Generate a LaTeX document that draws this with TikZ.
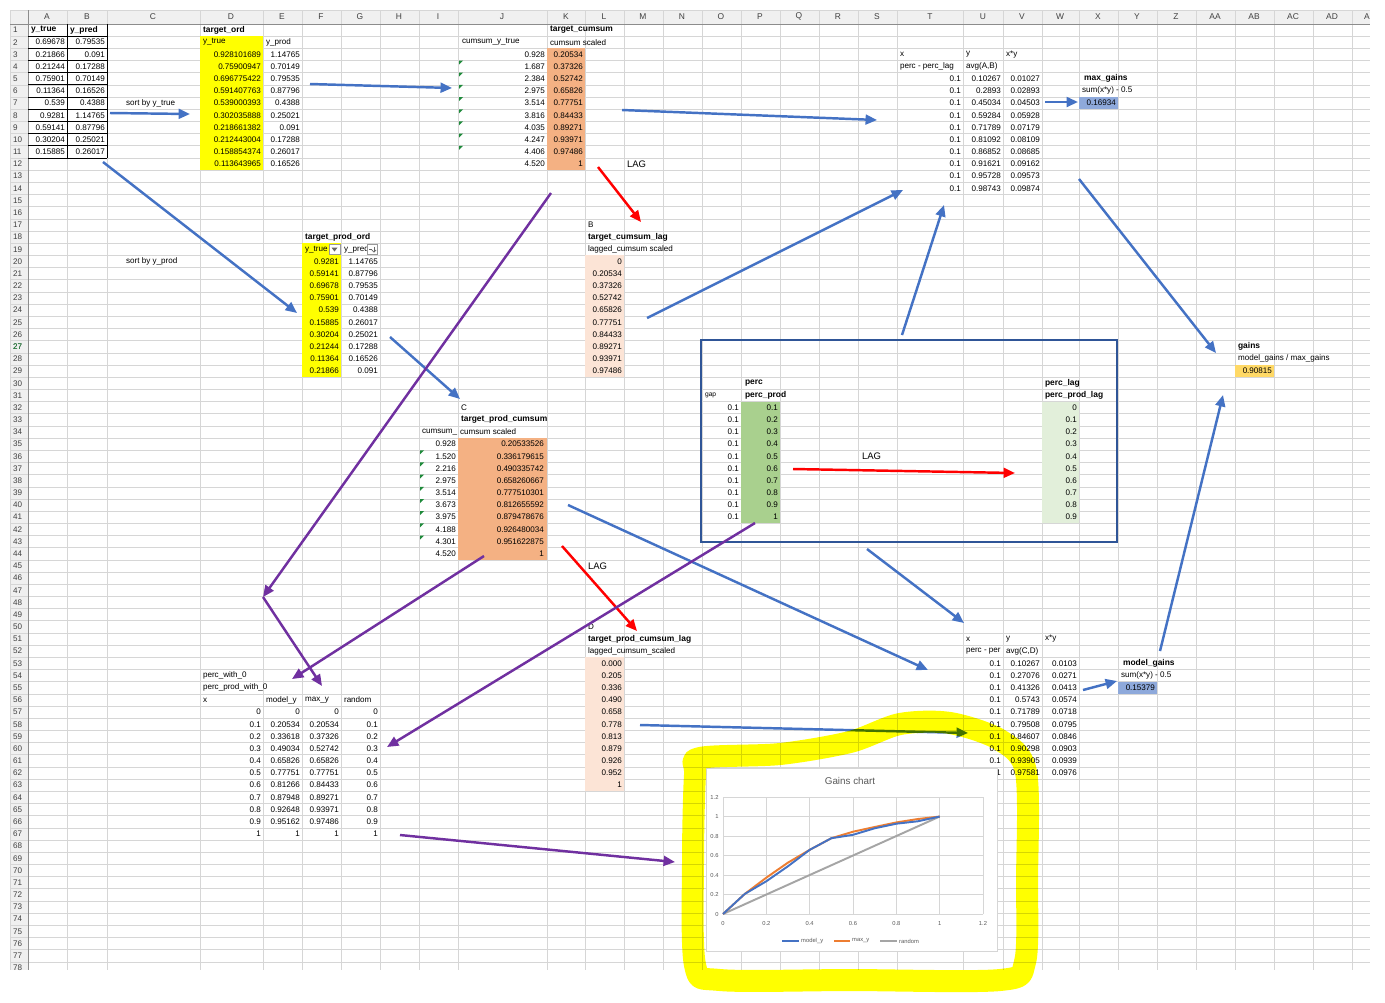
\documentclass[tikz,border=0pt]{standalone}
\usepackage{fontspec}
\setmainfont{Liberation Sans}
\usetikzlibrary{arrows.meta}
\definecolor{gridc}{HTML}{D6D6D6}
\definecolor{headc}{HTML}{F0F0F0}
\definecolor{xlyellow}{HTML}{FFFF00}
\definecolor{xlorange}{HTML}{F4B183}
\definecolor{xlpeach}{HTML}{FCE4D6}
\definecolor{xlgreen}{HTML}{A9D08E}
\definecolor{xllgreen}{HTML}{E2EFDA}
\definecolor{xlbluefill}{HTML}{8EA9DB}
\definecolor{xlgold}{HTML}{FFD966}
\definecolor{xlblue}{HTML}{4472C4}
\definecolor{xlred}{HTML}{FF0000}
\definecolor{xlpurple}{HTML}{7030A0}
\definecolor{boxblue}{HTML}{2F5597}
\definecolor{chorange}{HTML}{ED7D31}
\definecolor{chgray}{HTML}{A5A5A5}
\definecolor{txtgray}{HTML}{595959}
\definecolor{trigreen}{HTML}{1E8A3A}
\newcommand\ry[1]{(30+12.18*(#1-1))}
\newcommand\rt[1]{(24+12.18*(#1-1))}
\begin{document}
\begin{tikzpicture}[x=0.02cm,y=-0.02cm,
  cell/.style={font=\fontsize{4.6}{5.5}\selectfont,inner sep=0.4pt},
  num/.style={cell,anchor=east},
  lbl/.style={cell,anchor=west},
  hdr/.style={cell,anchor=west,font=\fontsize{4.8}{5.5}\selectfont\bfseries},
  colhd/.style={font=\fontsize{4.8}{5.5}\selectfont,text=black!75,inner sep=0.4pt},
  rowno/.style={font=\fontsize{4.6}{5.5}\selectfont,text=black!75,anchor=west,inner sep=0.4pt},
  lag/.style={anchor=west,inner sep=0.4pt,font=\fontsize{5.4}{6}\selectfont},
  axis/.style={font=\fontsize{3.3}{4}\selectfont,text=txtgray,inner sep=0.5pt},
  link/.style={line width=1.4pt,-{Triangle[length=6.5pt,width=5.6pt]}},
  bluearr/.style={link,draw=xlblue},
  redarr/.style={link,draw=xlred},
  purparr/.style={link,draw=xlpurple}]

\useasboundingbox (0,0) rectangle (1385,1002);

\begin{scope}
\clip (0,0) rectangle (1385,970);
\fill[headc] (10,10) rectangle (1370,24);
\fill[headc] (10,24) rectangle (28,970);
\draw[gridc] (10,10) -- (1370,10);
\foreach \r in {1,...,78} \draw[gridc] (10,{\rt{\r}}) -- (1370,{\rt{\r}});
\foreach \x in {10,67,107,200,263,302,341,380,419,458,547,585,624,663,702,741,780,819,858,897,963,1003,1042,1079,1118,1157,1196,1235,1274,1313,1352}
  \draw[gridc] (\x,10) -- (\x,970);
\draw[black!45] (28,10) -- (28,970);
\draw[black!45] (10,24) -- (1370,24);
\foreach \c/\x in {A/47,B/87,C/153,D/231,E/282,F/321,G/360,H/399,I/438,J/502,K/566,L/604,M/643,N/682,O/721,P/760,Q/799,R/838,S/877,T/930,U/983,V/1022,W/1060,X/1098,Y/1137,Z/1176,AA/1215,AB/1254,AC/1293,AD/1332,A/1367}
  \node[colhd] (col\c\x) at (\x,16.5) {\c};
\foreach \r in {1,...,78} \node[rowno] (row\r) at (12,{\ry{\r}}) {\r};
\node[rowno,text=trigreen] (sel) at (12,{\ry{27}}) {27};
\end{scope}

\fill[xlyellow] (200,{\rt{2}}) rectangle (263,{\rt{13}});
\fill[xlyellow] (302,{\rt{19}}) rectangle (341,{\rt{30}});
\fill[xlorange] (547,{\rt{3}}) rectangle (585,{\rt{13}});
\fill[xlpeach] (585,{\rt{20}}) rectangle (624,{\rt{30}});
\fill[xlorange] (458,{\rt{35}}) rectangle (547,{\rt{45}});
\fill[xlpeach] (585,{\rt{53}}) rectangle (624,{\rt{64}});
\fill[xlgreen] (741,{\rt{32}}) rectangle (780,{\rt{42}});
\fill[xllgreen] (1042,{\rt{32}}) rectangle (1079,{\rt{42}});
\fill[xlbluefill] (1079,{\rt{7}}) rectangle (1118,{\rt{8}});
\fill[xlbluefill] (1118,{\rt{55}}) rectangle (1157,{\rt{56}});
\fill[xlgold] (1235,{\rt{29}}) rectangle (1274,{\rt{30}});

\foreach \r in {2,...,12} \draw[black,line width=0.5pt] (28,{\rt{\r}}) -- (107,{\rt{\r}});
\foreach \x in {67,107} \draw[black,line width=0.5pt] (\x,{\rt{1}}) -- (\x,{\rt{12}});
\foreach \r in {4,...,11} \fill[trigreen] (459,{\rt{\r}}) -- ++(4,0) -- ++(-4,4) -- cycle;
\foreach \r in {36,...,43} \fill[trigreen] (420,{\rt{\r}}) -- ++(4,0) -- ++(-4,4) -- cycle;

\node[hdr] (ytH) at (30,{\ry{1}}) {y\_true};
\node[hdr] (ypH) at (69,{\ry{1}}) {y\_pred};
\foreach \v [count=\i from 2] in {0.69678,0.21866,0.21244,0.75901,0.11364,0.539,0.9281,0.59141,0.30204,0.15885}
  \node[num] (yt\i) at (66,{\ry{\i}}) {\v};
\foreach \v [count=\i from 2] in {0.79535,0.091,0.17288,0.70149,0.16526,0.4388,1.14765,0.87796,0.25021,0.26017}
  \node[num] (yp\i) at (106,{\ry{\i}}) {\v};
\node[lbl] (sortT) at (125,{\ry{7}}) {sort by y\_true};
\node[lbl] (sortP) at (125,{\ry{20}}) {sort by y\_prod};

\node[hdr] (ordH) at (202,{\ry{1}}) {target\_ord};
\node[lbl] (ordTH) at (202,{\ry{2}}) {y\_true};
\node[lbl] (ordPH) at (265,{\ry{2}}) {y\_prod};
\foreach \v [count=\i from 3] in {0.928101689,0.75900947,0.696775422,0.591407763,0.539000393,0.302035888,0.218661382,0.212443004,0.158854374,0.113643965}
  \node[num] (ordT\i) at (262,{\ry{\i}}) {\v};
\foreach \v [count=\i from 3] in {1.14765,0.70149,0.79535,0.87796,0.4388,0.25021,0.091,0.17288,0.26017,0.16526}
  \node[num] (ordP\i) at (301,{\ry{\i}}) {\v};

\node[lbl] (csH) at (461,{\ry{2}}) {cumsum\_y\_true};
\foreach \v [count=\i from 3] in {0.928,1.687,2.384,2.975,3.514,3.816,4.035,4.247,4.406,4.520}
  \node[num] (cs\i) at (546,{\ry{\i}}) {\v};
\node[hdr] (csSH) at (549,{\ry{1}}) {target\_cumsum};
\node[lbl] (csSL) at (549,{\ry{2}}) {cumsum scaled};
\foreach \v [count=\i from 3] in {0.20534,0.37326,0.52742,0.65826,0.77751,0.84433,0.89271,0.93971,0.97486,1}
  \node[num] (csS\i) at (584,{\ry{\i}}) {\v};
\node[lag] (lagA) at (626,{\ry{12}}) {LAG};

\node[lbl] (labB) at (587,{\ry{17}}) {B};
\node[hdr] (csLagH) at (587,{\ry{18}}) {target\_cumsum\_lag};
\node[lbl] (csLagL) at (587,{\ry{19}}) {lagged\_cumsum scaled};
\foreach \v [count=\i from 20] in {0,0.20534,0.37326,0.52742,0.65826,0.77751,0.84433,0.89271,0.93971,0.97486}
  \node[num] (csLag\i) at (623,{\ry{\i}}) {\v};

\node[hdr] (poH) at (304,{\ry{18}}) {target\_prod\_ord};
\node[lbl] (poTH) at (304,{\ry{19}}) {y\_true};
\node[lbl] (poPH) at (343,{\ry{19}}) {y\_pred};
\draw[black!40,fill=white] (329,244.5) rectangle (340,254.5);
\fill[black!60] (331.5,247.5) -- (337.5,247.5) -- (334.5,251.5) -- cycle;
\draw[black!40,fill=white] (367,244.5) rectangle (377,254.5);
\draw[black!60,line width=0.4pt] (369,249.5) -- (371.5,249.5);
\draw[black!60,line width=0.4pt,-{Straight Barb[length=1.2pt]}] (374,246.5) -- (374,252.5);
\foreach \v [count=\i from 20] in {0.9281,0.59141,0.69678,0.75901,0.539,0.15885,0.30204,0.21244,0.11364,0.21866}
  \node[num] (poT\i) at (340,{\ry{\i}}) {\v};
\foreach \v [count=\i from 20] in {1.14765,0.87796,0.79535,0.70149,0.4388,0.26017,0.25021,0.17288,0.16526,0.091}
  \node[num] (poP\i) at (379,{\ry{\i}}) {\v};

\node[lbl] (labC) at (460,{\ry{32}}) {C};
\node[hdr] (pcsH) at (460,{\ry{33}}) {target\_prod\_cumsum};
\node[lbl] (pcsL1) at (421,{\ry{34}}) {cumsum\_};
\node[lbl,fill=white] (pcsL2) at (459,{\ry{34}}) {cumsum scaled};
\foreach \v [count=\i from 35] in {0.928,1.520,2.216,2.975,3.514,3.673,3.975,4.188,4.301,4.520}
  \node[num] (pcs\i) at (457,{\ry{\i}}) {\v};
\foreach \v [count=\i from 35] in {0.20533526,0.336179615,0.490335742,0.658260667,0.777510301,0.812655592,0.879478676,0.926480034,0.951622875,1}
  \node[num] (pcsS\i) at (545,{\ry{\i}}) {\v};
\node[lag] (lagB) at (587,{\ry{45}}) {LAG};

\node[lbl] (labD) at (587,{\ry{50}}) {D};
\node[hdr] (pcsLagH) at (587,{\ry{51}}) {target\_prod\_cumsum\_lag};
\node[lbl] (pcsLagL) at (587,{\ry{52}}) {lagged\_cumsum\_scaled};
\foreach \v [count=\i from 53] in {0.000,0.205,0.336,0.490,0.658,0.778,0.813,0.879,0.926,0.952,1}
  \node[num] (pcsLag\i) at (623,{\ry{\i}}) {\v};

\node[lbl] (pwH) at (202,{\ry{54}}) {perc\_with\_0};
\node[lbl] (ppwH) at (202,{\ry{55}}) {perc\_prod\_with\_0};
\node[lbl] (pxH) at (202,{\ry{56}}) {x};
\node[lbl] (pmH) at (265,{\ry{56}}) {model\_y};
\node[lbl] (pxxH) at (304,{\ry{56}}) {max\_y};
\node[lbl] (prH) at (343,{\ry{56}}) {random};
\foreach \v [count=\i from 57] in {0,0.1,0.2,0.3,0.4,0.5,0.6,0.7,0.8,0.9,1} {
  \node[num] (px\i) at (262,{\ry{\i}}) {\v};
  \node[num] (prnd\i) at (379,{\ry{\i}}) {\v};
}
\foreach \v [count=\i from 57] in {0,0.20534,0.33618,0.49034,0.65826,0.77751,0.81266,0.87948,0.92648,0.95162,1}
  \node[num] (pmod\i) at (301,{\ry{\i}}) {\v};
\foreach \v [count=\i from 57] in {0,0.20534,0.37326,0.52742,0.65826,0.77751,0.84433,0.89271,0.93971,0.97486,1}
  \node[num] (pmax\i) at (340,{\ry{\i}}) {\v};

\node[cell,anchor=west,font=\fontsize{3.8}{4.5}\selectfont] (gapH) at (704,{\ry{31}}) {gap};
\node[hdr] (percH) at (744,{\ry{30}}) {perc};
\node[hdr] (ppH) at (744,{\ry{31}}) {perc\_prod};
\node[hdr] (plH) at (1044,{\ry{30}}) {perc\_lag};
\node[hdr] (pplH) at (1044,{\ry{31}}) {perc\_prod\_lag};
\foreach \v [count=\i from 32] in {0.1,0.2,0.3,0.4,0.5,0.6,0.7,0.8,0.9,1} {
  \node[num] (gap\i) at (740,{\ry{\i}}) {0.1};
  \node[num] (perc\i) at (779,{\ry{\i}}) {\v};
}
\foreach \v [count=\i from 32] in {0,0.1,0.2,0.3,0.4,0.5,0.6,0.7,0.8,0.9}
  \node[num] (plag\i) at (1078,{\ry{\i}}) {\v};
\node[lag] (lagC) at (861,{\ry{36}}) {LAG};
\draw[boxblue,line width=1.1pt] (701,340) rectangle (1117,542);

\node[lbl] (txH) at (899,{\ry{3}}) {x};
\node[lbl] (tyH) at (965,{\ry{3}}) {y};
\node[lbl] (txyH) at (1005,{\ry{3}}) {x*y};
\node[lbl] (txL) at (899,{\ry{4}}) {perc - perc\_lag};
\node[lbl] (tyL) at (965,{\ry{4}}) {avg(A,B)};
\foreach \v [count=\i from 5] in {0.10267,0.2893,0.45034,0.59284,0.71789,0.81092,0.86852,0.91621,0.95728,0.98743} {
  \node[num] (tx\i) at (962,{\ry{\i}}) {0.1};
  \node[num] (ty\i) at (1002,{\ry{\i}}) {\v};
}
\foreach \v [count=\i from 5] in {0.01027,0.02893,0.04503,0.05928,0.07179,0.08109,0.08685,0.09162,0.09573,0.09874}
  \node[num] (txy\i) at (1041,{\ry{\i}}) {\v};
\node[hdr] (maxH) at (1083,{\ry{5}}) {max\_gains};
\node[lbl] (maxL) at (1081,{\ry{6}}) {sum(x*y) - 0.5};
\node[num] (maxV) at (1117,{\ry{7}}) {0.16934};

\node[hdr] (gainsH) at (1237,{\ry{27}}) {gains};
\node[lbl] (gainsL) at (1237,{\ry{28}}) {model\_gains / max\_gains};
\node[num] (gainsV) at (1273,{\ry{29}}) {0.90815};

\node[lbl] (bxH) at (965,{\ry{51}}) {x};
\node[lbl] (byH) at (1005,{\ry{51}}) {y};
\node[lbl] (bxyH) at (1044,{\ry{51}}) {x*y};
\node[lbl] (bxL) at (965,{\ry{52}}) {perc - per};
\node[lbl] (byL) at (1005,{\ry{52}}) {avg(C,D)};
\foreach \u/\v [count=\i from 53] in {0.1/0.10267,0.1/0.27076,0.1/0.41326,0.1/0.5743,0.1/0.71789,0.1/0.79508,0.1/0.84607,0.1/0.90298,0.1/0.93905,1/0.97581} {
  \node[num] (bx\i) at (1002,{\ry{\i}}) {\u};
  \node[num] (by\i) at (1041,{\ry{\i}}) {\v};
}
\foreach \v [count=\i from 53] in {0.0103,0.0271,0.0413,0.0574,0.0718,0.0795,0.0846,0.0903,0.0939,0.0976}
  \node[num] (bxy\i) at (1078,{\ry{\i}}) {\v};
\node[hdr] (mgH) at (1122,{\ry{53}}) {model\_gains};
\node[lbl] (mgL) at (1120,{\ry{54}}) {sum(x*y) - 0.5};
\node[num] (mgV) at (1156,{\ry{55}}) {0.15379};

\fill[white] (706,768) rectangle (997,951);
\draw[gridc] (706,768) rectangle (997,951);
\node[font=\fontsize{5.6}{6}\selectfont,text=txtgray] (title) at (850,781) {Gains chart};
\begin{scope}[shift={(723,914)},x=4.334cm,y=1.95cm]
\foreach \v [count=\i] in {0,0.2,0.4,0.6,0.8,1,1.2} {
  \draw[gridc] (0,\v) -- (1.2,\v);
  \draw[gridc] (\v,0) -- (\v,1.2);
  \node[axis,anchor=east] (yl\i) at (-0.015,\v) {\v};
  \node[axis] (xl\i) at (\v,-0.1) {\v};
}
\draw[chgray,line width=1.1pt] (0,0) -- (1,1);
\draw[chorange,line width=1.1pt,line join=round] plot coordinates {(0,0) (0.1,0.20534) (0.2,0.37326) (0.3,0.52742) (0.4,0.65826) (0.5,0.77751) (0.6,0.84433) (0.7,0.89271) (0.8,0.93971) (0.9,0.97486) (1,1)};
\draw[xlblue,line width=1.1pt,line join=round] plot coordinates {(0,0) (0.1,0.20534) (0.2,0.33618) (0.3,0.49034) (0.4,0.65826) (0.5,0.77751) (0.6,0.81266) (0.7,0.87948) (0.8,0.92648) (0.9,0.95162) (1,1)};
\end{scope}
\draw[xlblue,line width=1.1pt] (782,941) -- (799,941);
\node[axis,anchor=west] (legA) at (800,941) {model\_y};
\draw[chorange,line width=1.1pt] (834,941) -- (850,941);
\node[axis,anchor=west] (legB) at (851,941) {max\_y};
\draw[chgray,line width=1.1pt] (880,941) -- (897,941);
\node[axis,anchor=west] (legC) at (898,941) {random};

\coordinate (sortOut) at (110,113);
\coordinate (ordIn) at (190,114);
\coordinate (ordOut) at (310,84);
\coordinate (csIn) at (452,88);
\coordinate (csOut) at (622,110);
\coordinate (topIn) at (877,120);
\coordinate (topOut) at (1045,102);
\coordinate (maxIn) at (1078,102);
\coordinate (rawOut) at (103,162);
\coordinate (poIn) at (297,313);
\coordinate (poOut) at (390,337);
\coordinate (pcsIn) at (460,399);
\coordinate (lagOut) at (647,318);
\coordinate (topIn2) at (903,190);
\coordinate (boxTop) at (902,335);
\coordinate (topIn3) at (944,205);
\coordinate (topEnd) at (1079,179);
\coordinate (gainsIn) at (1216,353);
\coordinate (mgOut) at (1160,651);
\coordinate (gainsIn2) at (1223,395);
\coordinate (pcsOut) at (568,505);
\coordinate (botIn) at (928,670);
\coordinate (boxBot) at (867,549);
\coordinate (botIn2) at (964,623);
\coordinate (botOut) at (1083,690);
\coordinate (mgIn) at (1117,681);
\coordinate (pcsLagOut) at (640,725);
\coordinate (botIn3) at (968,733);
\coordinate (csEnd) at (598,167);
\coordinate (csLagIn) at (641,222);
\coordinate (percOut) at (793,469);
\coordinate (percLagIn) at (1015,473);
\coordinate (pcsEnd) at (562,546);
\coordinate (pcsLagIn) at (637,631);
\coordinate (csDown) at (551,193);
\coordinate (bend) at (263,597);
\coordinate (pmaxIn) at (322,686);
\coordinate (pcsDown) at (484,556);
\coordinate (pwIn) at (292,679);
\coordinate (percDown) at (755,523);
\coordinate (prndIn) at (387,747);
\coordinate (tblOut) at (400,835);
\coordinate (chartIn) at (675,862);

\draw[bluearr] (sortOut) -- (ordIn);
\draw[bluearr] (ordOut) -- (csIn);
\draw[bluearr] (csOut) -- (topIn);
\draw[bluearr] (topOut) -- (maxIn);
\draw[bluearr] (rawOut) -- (poIn);
\draw[bluearr] (poOut) -- (pcsIn);
\draw[bluearr] (lagOut) -- (topIn2);
\draw[bluearr] (boxTop) -- (topIn3);
\draw[bluearr] (topEnd) -- (gainsIn);
\draw[bluearr] (mgOut) -- (gainsIn2);
\draw[bluearr] (pcsOut) -- (botIn);
\draw[bluearr] (boxBot) -- (botIn2);
\draw[bluearr] (botOut) -- (mgIn);
\draw[bluearr] (pcsLagOut) -- (botIn3);
\draw[redarr] (csEnd) -- (csLagIn);
\draw[redarr] (percOut) -- (percLagIn);
\draw[redarr] (pcsEnd) -- (pcsLagIn);
\draw[purparr] (csDown) -- (bend);
\draw[purparr] (bend) -- (pmaxIn);
\draw[purparr] (pcsDown) -- (pwIn);
\draw[purparr] (percDown) -- (prndIn);
\draw[purparr] (tblOut) -- (chartIn);

\begin{scope}[blend mode=multiply]
\draw[xlyellow,line width=0.44cm,line cap=round,line join=round] plot[smooth cycle] coordinates {(700,758) (780,754) (850,742) (900,724) (950,723) (1000,740) (1026,772) (1027,880) (1025,962) (1000,980) (850,980) (720,980) (695,965) (693,860) (695,775)};
\end{scope}
\end{tikzpicture}
\end{document}
